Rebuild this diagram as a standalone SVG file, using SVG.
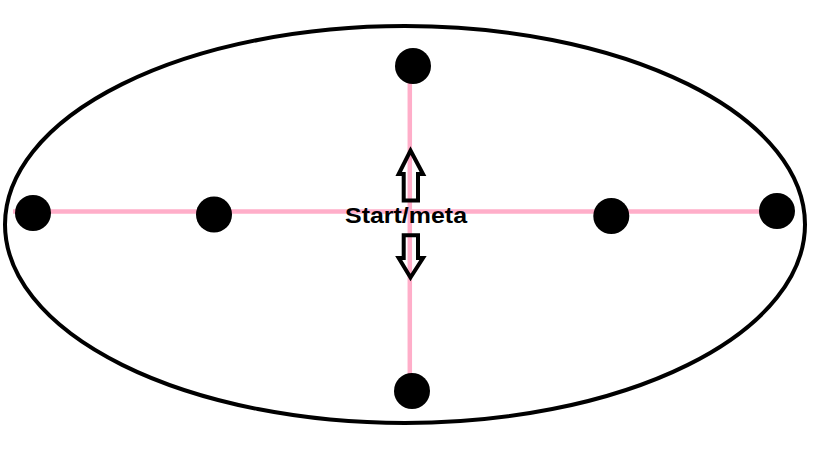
<svg xmlns="http://www.w3.org/2000/svg" width="819" height="460" viewBox="0 0 819 460">
<style>
.line{stroke:#ffaec9;stroke-width:4.5;fill:none}
.dot{fill:#000}
.arrow{fill:none;stroke:#000;stroke-width:4;stroke-linejoin:miter}
.label{font-family:"Liberation Sans",Arial,sans-serif;font-weight:bold;font-size:22px;fill:#000}
</style>
<rect width="819" height="460" fill="#fff"/>
<g id="boundary">
<ellipse cx="405" cy="224.5" rx="400" ry="198.5" fill="none" stroke="#000" stroke-width="4"/>
</g>
<g id="connectors">
<line class="line" x1="13" y1="211.5" x2="777" y2="211.5"/>
<line class="line" x1="409.8" y1="50" x2="409.8" y2="391"/>
</g>
<g id="node-top"><circle class="dot" cx="413" cy="66" r="18"/></g>
<g id="node-bottom"><circle class="dot" cx="412" cy="391" r="18"/></g>
<g id="node-left-outer"><circle class="dot" cx="33" cy="213" r="18"/></g>
<g id="node-left-inner"><circle class="dot" cx="214" cy="214.5" r="18"/></g>
<g id="node-right-inner"><circle class="dot" cx="611.3" cy="216" r="18"/></g>
<g id="node-right-outer"><circle class="dot" cx="777" cy="211" r="18"/></g>
<g id="arrow-up">
<path class="arrow" d="M410.5,150.5 L423,174 L418,174 L418,200.5 L403.7,200.5 L403.7,174 L398.7,174 Z"/>
</g>
<g id="arrow-down">
<path class="arrow" d="M410.5,277.5 L423,258 L418,258 L418,235.3 L403.7,235.3 L403.7,258 L398.7,258 Z"/>
</g>
<g id="start">
<text class="label" x="345" y="223" textLength="122" lengthAdjust="spacingAndGlyphs">Start/meta</text>
</g>
</svg>
